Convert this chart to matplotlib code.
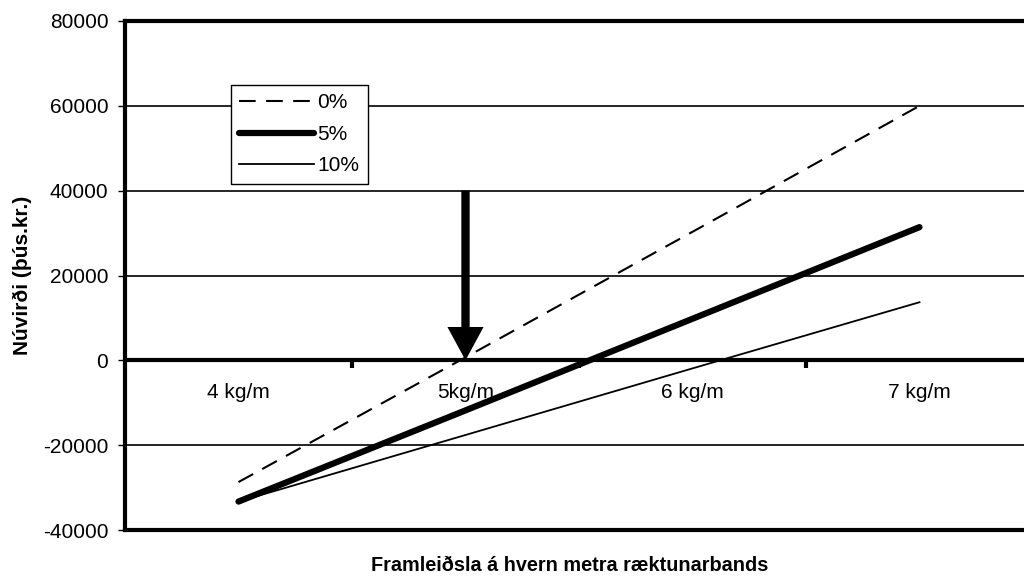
import matplotlib
matplotlib.use('Agg')
import matplotlib.pyplot as plt
from matplotlib.markers import TICKDOWN

plt.rcParams['font.family'] = ['Liberation Sans', 'DejaVu Sans']

# values (thousand kr.)
categories = ['4 kg/m', '5kg/m', '6 kg/m', '7 kg/m']
rate_0 = [-28700, 700, 30300, 60000]
rate_5 = [-33300, -11800, 9800, 31400]
rate_10 = [-33300, -17600, -1900, 13700]
series_labels = ['0%', '5%', '10%']
y_ticks = [-40000, -20000, 0, 20000, 40000, 60000, 80000]
arrow_x = 1          # the 5 kg/m break-even point
arrow_from = 40000
arrow_to = 0

fs = 15

fig = plt.figure(figsize=(10.24, 5.77), dpi=100)
ax = fig.add_axes([125 / 1024, 1 - 530 / 577, 908 / 1024, 509 / 577])

x = range(len(categories))
ax.plot(x, rate_0, color='black', lw=1.5, ls=(0, (8, 5)), label=series_labels[0])
ax.plot(x, rate_5, color='black', lw=4.5, solid_capstyle='round', label=series_labels[1])
ax.plot(x, rate_10, color='black', lw=1.3, label=series_labels[2])

ax.set_xlim(-0.5, 3.5)
ax.set_ylim(-40000, 80000)
ax.set_yticks(y_ticks)
ax.set_yticklabels([str(v) for v in y_ticks], fontsize=fs)
ax.set_xticks([])

# gridlines and heavy zero line
for v in y_ticks:
    if v == 0:
        ax.axhline(v, color='black', lw=3, zorder=1)
    elif -40000 < v < 80000:
        ax.axhline(v, color='black', lw=1.2, zorder=1)

# small tick marks between the categories on the zero line
ax.plot([0.5, 1.5, 2.5], [0, 0, 0], ls='none', marker=TICKDOWN,
        ms=6, mew=3, color='black', zorder=2)

# category labels just under the zero line
for i, lab in enumerate(categories):
    ax.text(i, -7700, lab, ha='center', va='center', fontsize=fs)

# arrow pointing at the break-even point
ax.annotate('', xy=(arrow_x, arrow_to), xytext=(arrow_x, arrow_from),
            arrowprops=dict(width=6, headwidth=26, headlength=24,
                            facecolor='black', edgecolor='black', lw=0,
                            shrink=0))

for side in ['left', 'top', 'bottom']:
    ax.spines[side].set_linewidth(3)
ax.spines['right'].set_visible(False)
ax.tick_params(axis='y', length=5, width=1, direction='out', pad=7)

ax.set_ylabel('Núvirði (þús.kr.)', fontsize=fs, fontweight='bold', labelpad=8)
ax.text(0.49, -0.07, 'Framleiðsla á hvern metra ræktunarbands', transform=ax.transAxes,
        ha='center', va='center', fontsize=14.3, fontweight='bold')

leg = ax.legend(loc='upper left', bbox_to_anchor=(106 / 908, 1 - 64 / 509), fontsize=fs,
                frameon=True, fancybox=False, handlelength=3.6, handletextpad=0.15,
                borderpad=0.4, labelspacing=0.6, borderaxespad=0)
leg.get_frame().set_edgecolor('black')
leg.get_frame().set_linewidth(1)
leg.get_frame().set_alpha(1)

fig.savefig('out.png', dpi=100)
